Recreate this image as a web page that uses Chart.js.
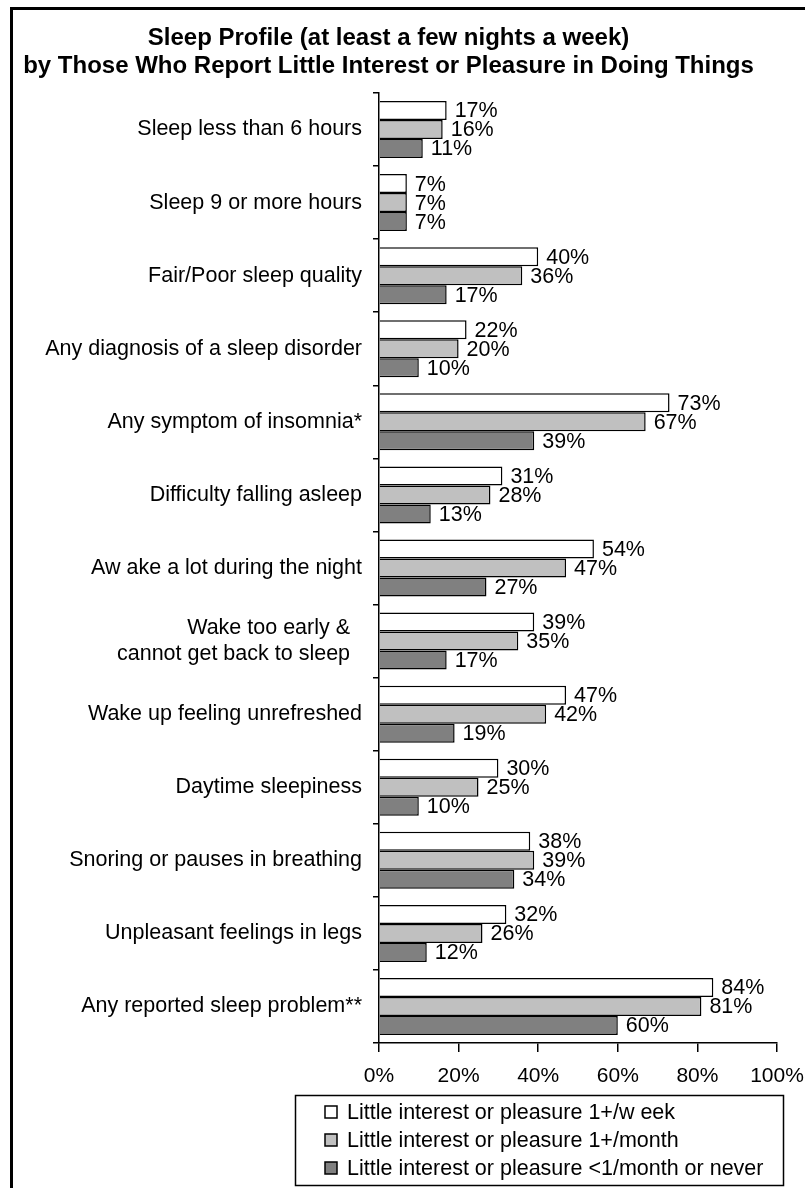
<!DOCTYPE html>
<html>
<head>
<meta charset="utf-8">
<script src="https://cdn.jsdelivr.net/npm/chart.js@4"></script>
<style>
  html, body { margin: 0; padding: 0; background: #fff; }
  #wrap { position: relative; width: 805px; height: 1188px; }
</style>
</head>
<body>
<div id="wrap"><canvas id="sleepChart" width="805" height="1188"></canvas></div>
<script>
// data
const categories = [
    'Sleep less than 6 hours',
    'Sleep 9 or more hours',
    'Fair/Poor sleep quality',
    'Any diagnosis of a sleep disorder',
    'Any symptom of insomnia*',
    'Difficulty falling asleep',
    'Aw ake a lot during the night',
    ['Wake too early &  ', 'cannot get back to sleep  '],
    'Wake up feeling unrefreshed',
    'Daytime sleepiness',
    'Snoring or pauses in breathing',
    'Unpleasant feelings in legs',
    'Any reported sleep problem**'
];
const weekly  = [17, 7, 40, 22, 73, 31, 54, 39, 47, 30, 38, 32, 84];
const monthly = [16, 7, 36, 20, 67, 28, 47, 35, 42, 25, 39, 26, 81];
const rarely  = [11, 7, 17, 10, 39, 13, 27, 17, 19, 10, 34, 12, 60];
const seriesNames = [
    'Little interest or pleasure 1+/w eek',
    'Little interest or pleasure 1+/month',
    'Little interest or pleasure <1/month or never'
];
const xTicks = [0, 20, 40, 60, 80, 100];

const FONT = "'Liberation Sans', Arial, sans-serif";
const TEXT_SIZE = 21.5;

// frame, value labels and boxed legend
const extras = {
    id: 'extras',
    beforeDraw(chart) {
        const c = chart.ctx;
        c.save();
        c.strokeStyle = '#000';
        c.lineWidth = 3;
        c.beginPath();
        c.moveTo(11.5, 1200);
        c.lineTo(11.5, 8.5);
        c.lineTo(810, 8.5);
        c.stroke();
        c.restore();
    },
    afterDatasetsDraw(chart) {
        const c = chart.ctx;
        c.save();
        c.font = TEXT_SIZE + 'px ' + FONT;
        c.fillStyle = '#000';
        c.textBaseline = 'middle';
        c.textAlign = 'left';
        chart.data.datasets.forEach((ds, i) => {
            chart.getDatasetMeta(i).data.forEach((bar, j) => {
                c.fillText(ds.data[j] + '%', bar.x + 8, bar.y + 1);
            });
        });
        c.restore();
    },
    afterDraw(chart) {
        const c = chart.ctx;
        c.save();
        c.strokeStyle = '#000';
        c.lineWidth = 1.5;
        c.strokeRect(295.5, 1095.5, 488, 90);
        c.font = TEXT_SIZE + 'px ' + FONT;
        c.textBaseline = 'middle';
        chart.data.datasets.forEach((ds, i) => {
            const y = 1112 + i * 28;
            c.fillStyle = ds.backgroundColor;
            c.fillRect(325, y - 6, 12, 12);
            c.strokeRect(325, y - 6, 12, 12);
            c.fillStyle = '#000';
            c.fillText(ds.label, 347, y + 1);
        });
        c.restore();
    }
};

const ctx = document.getElementById('sleepChart').getContext('2d');

new Chart(ctx, {
    type: 'bar',
    data: {
        labels: categories,
        datasets: [
            { label: seriesNames[0], data: weekly,  backgroundColor: '#ffffff' },
            { label: seriesNames[1], data: monthly, backgroundColor: '#c0c0c0' },
            { label: seriesNames[2], data: rarely,  backgroundColor: '#808080' }
        ]
    },
    options: {
        indexAxis: 'y',
        responsive: false,
        animation: false,
        layout: { padding: { left: 0, right: 28, top: 0, bottom: 100 } },
        datasets: {
            bar: {
                borderColor: '#000',
                borderWidth: 1.5,
                categoryPercentage: 0.78,
                barPercentage: 1.0
            }
        },
        plugins: {
            legend: { display: false },
            tooltip: { enabled: false },
            title: {
                display: true,
                text: ['Sleep Profile (at least a few nights a week)',
                       'by Those Who Report Little Interest or Pleasure in Doing Things'],
                color: '#000',
                font: { family: FONT, size: 24, weight: 'bold', lineHeight: 28 / 24 },
                padding: { top: 24.5, bottom: 12.5 }
            }
        },
        scales: {
            x: {
                min: 0,
                max: 100,
                afterBuildTicks(scale) {
                    scale.ticks = xTicks.map(v => ({ value: v }));
                },
                afterFit(scale) {
                    scale.height = 45;
                    scale.paddingLeft = 0;
                    scale.paddingRight = 0;
                },
                ticks: {
                    color: '#000',
                    padding: 12,
                    font: { family: FONT, size: 21 },
                    callback: v => v + '%'
                },
                grid: {
                    drawOnChartArea: false,
                    drawTicks: true,
                    tickLength: 9,
                    color: '#000',
                    lineWidth: 1.5
                },
                border: { display: true, color: '#000', width: 1.5 }
            },
            y: {
                afterFit(scale) { scale.width = 379; },
                ticks: {
                    color: '#000',
                    padding: 11,
                    font: { family: FONT, size: TEXT_SIZE, lineHeight: 1.17 }
                },
                grid: {
                    offset: true,
                    drawOnChartArea: false,
                    drawTicks: true,
                    tickLength: 6,
                    color: '#000',
                    lineWidth: 1.5
                },
                border: { display: true, color: '#000', width: 1.5 }
            }
        }
    },
    plugins: [extras]
});
</script>
</body>
</html>
